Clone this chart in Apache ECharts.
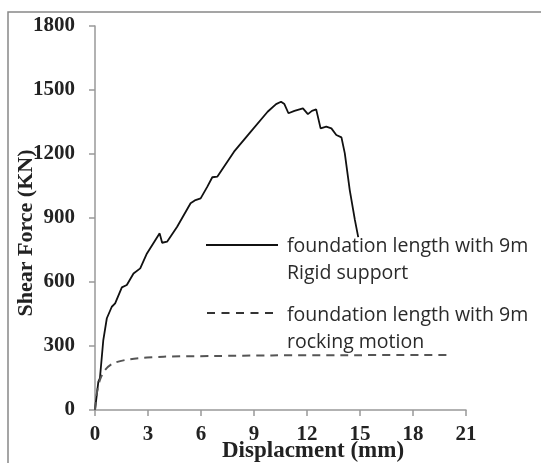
<!DOCTYPE html>
<html>
<head>
<meta charset="utf-8">
<script src="https://cdn.jsdelivr.net/npm/echarts@6/dist/echarts.min.js"></script>
<style>html,body{margin:0;padding:0;background:#fff}#c{width:541px;height:463px}</style>
</head>
<body>
<div id="c"></div>
<script>
const xTicks = [0, 3, 6, 9, 12, 15, 18, 21];
const yTicks = [0, 300, 600, 900, 1200, 1500, 1800];
const seriesNames = ['foundation length with 9m\nRigid support', 'foundation length with 9m\nrocking motion'];
const rigidX = [0, 0.19, 0.28, 0.47, 0.67, 0.95, 1.14, 1.52, 1.8, 2.18, 2.56, 2.94, 3.42, 3.66, 3.8, 4.08, 4.65, 5.41, 5.69, 5.98, 6.36, 6.64, 6.93, 7.87, 8.82, 9.77, 10.25, 10.53, 10.72, 10.95, 11.29, 11.77, 12.05, 12.28, 12.52, 12.77, 13.09, 13.38, 13.66, 13.95, 14.14, 14.42, 14.71, 14.9];
const rigidY = [0, 133, 150, 328, 430, 484, 500, 575, 586, 640, 664, 734, 797, 828, 784, 789, 859, 969, 984, 992, 1047, 1091, 1094, 1211, 1305, 1398, 1434, 1445, 1434, 1391, 1402, 1414, 1387, 1402, 1409, 1320, 1328, 1320, 1289, 1278, 1203, 1031, 891, 810];
const rockX = [0, 0.1, 0.28, 0.57, 1.04, 1.99, 3.89, 6.73, 10, 14, 20];
const rockY = [0, 78, 141, 188, 219, 238, 250, 253, 256, 257, 258];

const chart = echarts.init(document.getElementById('c'), null, {renderer: 'canvas'});
const serif = '"Liberation Serif", "DejaVu Serif", serif';
const sans = '"Open Sans", Lato, sans-serif';
const legendFont = '19.5px ' + sans;
chart.setOption({
  animation: false,
  grid: {left: 95, right: 75, top: 26, bottom: 53},
  graphic: [
    {type: 'polyline', shape: {points: [[8, 470], [8, 12], [560, 12]]}, style: {fill: 'none', stroke: '#888', lineWidth: 1.5}, silent: true},
    {type: 'text', x: 222, y: 451, style: {text: 'Displacment (mm)', font: 'bold 23px ' + serif, fill: '#222', verticalAlign: 'middle'}},
    {type: 'text', x: 26, y: 233, rotation: Math.PI / 2, style: {text: 'Shear Force (KN)', font: 'bold 22px ' + serif, fill: '#222', align: 'center', verticalAlign: 'middle'}},
    {type: 'line', shape: {x1: 206, y1: 245, x2: 278, y2: 245}, style: {stroke: '#111', lineWidth: 1.8}},
    {type: 'text', x: 287, y: 260, style: {text: seriesNames[0], font: legendFont, fill: '#2a2a2a', lineHeight: 27, verticalAlign: 'middle'}},
    {type: 'line', shape: {x1: 207, y1: 313, x2: 273, y2: 313}, style: {stroke: '#333', lineWidth: 2, lineDash: [8, 6.5]}},
    {type: 'text', x: 287, y: 329, style: {text: seriesNames[1], font: legendFont, fill: '#2a2a2a', lineHeight: 27, verticalAlign: 'middle'}}
  ],
  xAxis: {
    type: 'value', min: 0, max: 21, interval: 3,
    axisLine: {show: true, lineStyle: {color: '#999', width: 1.5}},
    axisTick: {show: true, length: 6, lineStyle: {color: '#999', width: 1.5}},
    axisLabel: {margin: 14, fontFamily: serif, fontWeight: 'bold', fontSize: 21, color: '#222',
      formatter: v => xTicks.includes(v) ? String(v) : ''},
    splitLine: {show: false}
  },
  yAxis: {
    type: 'value', min: 0, max: 1800, interval: 300,
    axisLine: {show: true, lineStyle: {color: '#999', width: 1.5}},
    axisTick: {show: true, length: 6, lineStyle: {color: '#999', width: 1.5}},
    axisLabel: {margin: 20, fontFamily: serif, fontWeight: 'bold', fontSize: 21, color: '#222',
      formatter: v => yTicks.includes(v) ? String(v) : ''},
    splitLine: {show: false}
  },
  series: [
    {name: seriesNames[0], type: 'line', data: rigidX.map((x, i) => [x, rigidY[i]]), symbol: 'none',
      lineStyle: {color: '#111', width: 1.8}},
    {name: seriesNames[1], type: 'line', data: rockX.map((x, i) => [x, rockY[i]]), smooth: 0.3, symbol: 'none',
      lineStyle: {color: '#555', width: 2, type: [8, 6]}}
  ]
});
</script>
</body>
</html>
